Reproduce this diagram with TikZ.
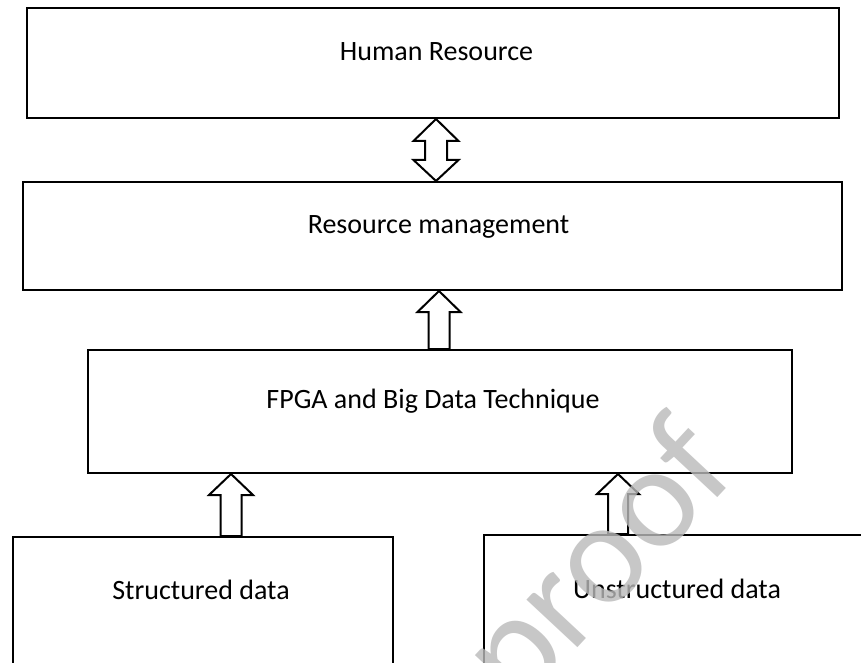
\documentclass[tikz,border=0pt]{standalone}
\usepackage{fontspec}
\setmainfont{Carlito}
\usetikzlibrary{calc}
\definecolor{wmgray}{RGB}{185,185,185}
\begin{document}
\begin{tikzpicture}[x=1pt,y=-1pt,
  box/.style={draw=black,line width=2pt,fill=white,inner sep=0pt,anchor=north west},
  lbl/.style={anchor=base,inner sep=0pt,font=\fontsize{28}{34}\selectfont},
  blockarrow/.style={draw=black,line width=2pt,fill=white,line join=miter}]
\clip (0,0) rectangle (861,663);
\fill[white] (0,0) rectangle (861,663);

% boxes (the two lower ones run past the bottom edge)
\node[box,minimum width=812pt,minimum height=110pt] (hr) at (26,7) {};
\node[box,minimum width=819pt,minimum height=108pt] (rm) at (22,181) {};
\node[box,minimum width=704pt,minimum height=123pt] (fp) at (87,349) {};
\node[box,minimum width=380pt,minimum height=200pt] (sd) at (12,536) {};
\node[box,minimum width=420pt,minimum height=200pt] (ud) at (483,534) {};

% box texts
\node[lbl] (thr) at (436.5,61) {Human Resource};
\node[lbl] (trm) at (438.5,233) {Resource management};
\node[lbl] (tfp) at (433,408) {FPGA and Big Data Technique};
\node[lbl] (tsd) at (201,599) {Structured data};
\node[lbl] (tud) at (677,598) {Unstructured data};

% horizontal positions of the block arrows
\coordinate (xa) at (436,0);
\coordinate (xb) at (439,0);
\coordinate (xc) at (231,0);
\coordinate (xd) at (618,0);

% double block arrow between the two upper boxes
\draw[blockarrow] let \p1=(xa |- hr.south), \p2=(xa |- rm.north) in
  (\p1) -- (\x1+22.5pt,\y1-22pt) -- (\x1+11pt,\y1-22pt) -- (\x1+11pt,\y2+21pt)
  -- (\x1+22.5pt,\y2+21pt) -- (\p2) -- (\x1-22.5pt,\y2+21pt) -- (\x1-11pt,\y2+21pt)
  -- (\x1-11pt,\y1-22pt) -- (\x1-22.5pt,\y1-22pt) -- cycle;

% upward block arrows
\draw[blockarrow] let \p1=(xb |- rm.south), \p2=(xb |- fp.north) in
  (\p1) -- (\x1+21.5pt,\y1-21pt) -- (\x1+10.5pt,\y1-21pt) -- (\x1+10.5pt,\y2)
  -- (\x1-10.5pt,\y2) -- (\x1-10.5pt,\y1-21pt) -- (\x1-21.5pt,\y1-21pt) -- cycle;
\draw[blockarrow] let \p1=(xc |- fp.south), \p2=(xc |- sd.north) in
  (\p1) -- (\x1+22pt,\y1-21pt) -- (\x1+10.5pt,\y1-21pt) -- (\x1+10.5pt,\y2)
  -- (\x1-10.5pt,\y2) -- (\x1-10.5pt,\y1-21pt) -- (\x1-22pt,\y1-21pt) -- cycle;
\draw[blockarrow] let \p1=(xd |- fp.south), \p2=(xd |- ud.north) in
  (\p1) -- (\x1+21pt,\y1-20pt) -- (\x1+10pt,\y1-20pt) -- (\x1+10pt,\y2)
  -- (\x1-10pt,\y2) -- (\x1-10pt,\y1-20pt) -- (\x1-21pt,\y1-20pt) -- cycle;

% watermark
\node[anchor=base,inner sep=0pt,rotate=47,text=wmgray,text opacity=0.8,
  font=\fontsize{146}{170}\selectfont] (wm) at (630,592) {proof};
\end{tikzpicture}
\end{document}
